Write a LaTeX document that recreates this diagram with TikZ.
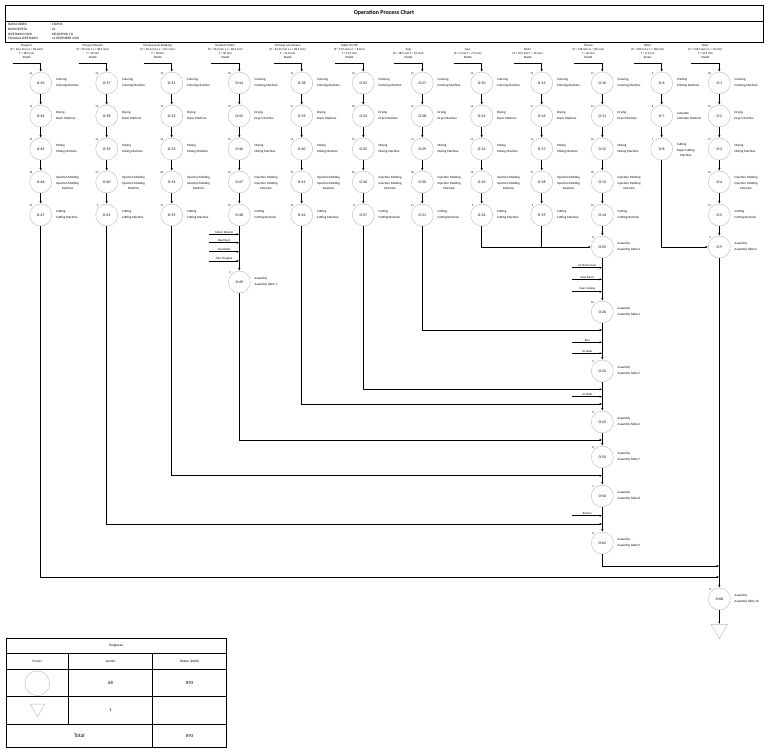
\documentclass[tikz,border=0pt]{standalone}
\usepackage{fontspec}
\setmainfont{Carlito}
\usetikzlibrary{arrows.meta, positioning, shapes.geometric}

\begin{document}
\begin{tikzpicture}[
    x=1pt, y=-1pt, % picture measured like the sheet, y going down
    >={Latex[length=2.6pt,width=2.2pt]}, % small arrow tips
    op/.style={circle, draw=gray!55, line width=0.4pt, minimum size=22pt, inner sep=0pt, font=\fontsize{3.8}{4}\selectfont},
    tm/.style={font=\fontsize{2.8}{3}\selectfont, inner sep=0.3pt},
    act/.style={anchor=west, inner sep=0pt, font=\fontsize{3.2}{3.8}\selectfont},
    mach/.style={anchor=north west, inner sep=0pt, align=center, font=\fontsize{3.2}{4.6}\selectfont},
    hdr/.style={anchor=south, align=center, inner sep=0pt, font=\fontsize{3}{4}\selectfont},
    part/.style={anchor=south, minimum width=30pt, inner sep=1pt, font=\fontsize{3}{3.5}\selectfont},
    info/.style={anchor=west, inner sep=0pt, font=\fontsize{3.4}{4}\selectfont},
    cell/.style={inner sep=0pt, font=\fontsize{3.4}{4}\selectfont},
    flow/.style={->, line width=1pt},
    joinline/.style={line width=1pt},
    store/.style={regular polygon, regular polygon sides=3, shape border rotate=180, draw=gray!55, line width=0.4pt, inner sep=0pt}
]
    \useasboundingbox (0,0) rectangle (768,753);

    % Title block
    \draw[line width=0.8pt] (5,5) rectangle (763,42);
    \draw[line width=0.8pt] (5,21) -- (763,21);
    \node[font=\bfseries\fontsize{6}{7}\selectfont] (title) at (384,13) {Operation Process Chart};
    \node[info] (k1) at (8,24.5) {NAMA OBJEK};
    \node[info] (k2) at (8,29.3) {NOMOR PETA};
    \node[info] (k3) at (8,34) {DIPETAKAN OLEH};
    \node[info] (k4) at (8,38.7) {TANGGAL DIPETAKAN};
    \node[info] (v1) at (50,24.5) {: TAMIYA};
    \node[info] (v2) at (50,29.3) {: 01};
    \node[info] (v3) at (50,34) {: KELOMPOK 1 B};
    \node[info] (v4) at (50,38.7) {: 11 DESEMBER 2023};

    % Part headers
    \node[hdr] (h63) at (26.7,59) {Pengunci\\(P = 16,4 mm x L = 86 mm)\\T = 18,5 mm\\Plastik};
    \node[hdr] (h57) at (92.7,59) {Pengunci Bawah\\(P = 45 mm x L = 38,2 mm)\\T = 10 mm\\Plastik};
    \node[hdr] (h51) at (157.7,59) {Penutup Gear Belakang\\(P = 40,2 mm x L = 23,4 mm)\\T = 18 mm\\Plastik};
    \node[hdr] (h44) at (225.3,59) {Dudukan Motor\\(P = 33,2 mm x L = 28,4 mm)\\T = 30 mm\\Plastik};
    \node[hdr] (h38) at (287.7,59) {Penutup Gear Depan\\(P = 36,45 mm x L = 28,5 mm)\\T = 15,8 mm\\Plastik};
    \node[hdr] (h33) at (349.3,59) {Saklar On/Off\\(P = 10,5 mm x L = 8 mm)\\T = 12,5 mm\\Plastik};
    \node[hdr] (h27) at (408.3,59) {Velg\\(d = 18,5 mm T = 10 mm)\\Plastik};
    \node[hdr] (h20) at (467.7,59) {Gear\\(d = 6 mm T = 7,5 mm)\\Plastik};
    \node[hdr] (h15) at (527.7,59) {Roller\\(d = 10,5 mm T = 16 mm)\\Plastik};
    \node[hdr] (h10) at (588.3,59) {Chassis\\(P = 148 mm x L = 86 mm)\\T = 40 mm\\Plastik};
    \node[hdr] (h6) at (647.7,59) {Stiker\\(P = 165 mm x L = 100 mm)\\T = 0,1 mm\\Kertas};
    \node[hdr] (h1) at (705.3,59) {Body\\(P = 148,5 mm x L = 70 mm)\\T = 44,5 mm\\Plastik};

    % Parts made in five steps
    \foreach \cx/\fst/\tA/\tB/\tC/\tD/\tE in {40.7/63/14/12/15/18/10, 106.7/57/13/12/14/17/9,
        171.7/51/15/13/16/20/11, 239.3/44/16/12/15/21/10, 301.7/38/14/11/15/19/10,
        363.3/33/12/10/13/16/8, 422.3/27/15/12/14/18/11, 481.7/20/14/13/15/19/9,
        541.7/15/13/11/14/17/9, 602.3/10/17/14/16/22/12, 719.3/1/18/15/17/24/13}{
        \pgfmathtruncatemacro\nxa{\fst+1}
        \pgfmathtruncatemacro\nxb{\fst+2}
        \pgfmathtruncatemacro\nxc{\fst+3}
        \pgfmathtruncatemacro\nxd{\fst+4}

        \node[op, label={[tm]above left:\tA}] (o\fst) at (\cx,83) {O-\fst};
        \node[act] (a\fst) at ([xshift=4pt,yshift=3pt]o\fst.east) {Coloring};
        \node[mach] (m\fst) at ([xshift=4pt,yshift=-1pt]o\fst.east) {Coloring Machine};

        \node[op, label={[tm]above left:\tB}] (o\nxa) at (\cx,116) {O-\nxa};
        \node[act] (a\nxa) at ([xshift=4pt,yshift=3pt]o\nxa.east) {Drying};
        \node[mach] (m\nxa) at ([xshift=4pt,yshift=-1pt]o\nxa.east) {Dryer Machine};

        \node[op, label={[tm]above left:\tC}] (o\nxb) at (\cx,149) {O-\nxb};
        \node[act] (a\nxb) at ([xshift=4pt,yshift=3pt]o\nxb.east) {Mixing};
        \node[mach] (m\nxb) at ([xshift=4pt,yshift=-1pt]o\nxb.east) {Mixing Machine};

        \node[op, label={[tm]above left:\tD}] (o\nxc) at (\cx,182) {O-\nxc};
        \node[act] (a\nxc) at ([xshift=4pt,yshift=4.5pt]o\nxc.east) {Injection Molding};
        \node[mach] (m\nxc) at ([xshift=4pt,yshift=0pt]o\nxc.east) {Injection Molding\\Machine};

        \node[op, label={[tm]above left:\tE}] (o\nxd) at (\cx,215) {O-\nxd};
        \node[act] (a\nxd) at ([xshift=4pt,yshift=3pt]o\nxd.east) {Cutting};
        \node[mach] (m\nxd) at ([xshift=4pt,yshift=-1pt]o\nxd.east) {Cutting Machine};

        \path (o\fst) ++(-28,-20) coordinate (in\fst);
        \draw[flow] (in\fst) -| (o\fst);
        \draw[flow] (o\fst) -- (o\nxa);
        \draw[flow] (o\nxa) -- (o\nxb);
        \draw[flow] (o\nxb) -- (o\nxc);
        \draw[flow] (o\nxc) -- (o\nxd);
    }

    % Stiker (three steps)
    \node[op, label={[tm]above left:9}] (o6) at (661.7,83) {O-6};
    \node[act] (a6) at ([xshift=4pt,yshift=3pt]o6.east) {Printing};
    \node[mach] (m6) at ([xshift=4pt,yshift=-1pt]o6.east) {Printing Machine};
    \node[op, label={[tm]above left:8}] (o7) at (661.7,116) {O-7};
    \node[act] (a7) at ([xshift=4pt,yshift=3pt]o7.east) {Laminate};
    \node[mach] (m7) at ([xshift=4pt,yshift=-1pt]o7.east) {Laminate Machine};
    \node[op, label={[tm]above left:7}] (o8) at (661.7,149) {O-8};
    \node[act] (a8) at ([xshift=4pt,yshift=4.5pt]o8.east) {Cutting};
    \node[mach] (m8) at ([xshift=4pt,yshift=0pt]o8.east) {Paper Cutting\\Machine};
    \coordinate (in6) at (633.7,63);
    \draw[flow] (in6) -| (o6);
    \draw[flow] (o6) -- (o7);
    \draw[flow] (o7) -- (o8);

    % Assemblies
    \node[op, label={[tm]above left:9}] (o9) at (719.3,247) {O-9};
    \node[op, label={[tm]above left:8}] (o25) at (602.3,247) {O-25};
    \node[op, label={[tm]above left:10}] (o26) at (602.3,312) {O-26};
    \node[op, label={[tm]above left:9}] (o32) at (602.3,371) {O-32};
    \node[op, label={[tm]above left:8}] (o43) at (602.3,422) {O-43};
    \node[op, label={[tm]above left:9}] (o49) at (239.3,282) {O-49};
    \node[op, label={[tm]above left:8}] (o50) at (602.3,457) {O-50};
    \node[op, label={[tm]above left:9}] (o56) at (602.3,496) {O-56};
    \node[op, label={[tm]above left:8}] (o62) at (602.3,543) {O-62};
    \node[op, label={[tm]above left:8}] (o68) at (719.3,599) {O-68};
    \foreach \o/\k in {49/1, 9/2, 25/3, 26/4, 32/5, 43/6, 50/7, 56/8, 62/9, 68/10}{
        \node[act] (a\o) at ([xshift=4pt,yshift=3pt]o\o.east) {Assembly};
        \node[mach] (m\o) at ([xshift=4pt,yshift=-1pt]o\o.east) {Assembly Table \k};
    }
    \node[store, minimum size=19.2pt] (s1) at (719.3,629.1) {};

    % Parts joined without making
    \node[part] (p1) at (224.3,234.3) {Motor Dinamo};
    \node[part] (p2) at (224.3,242.7) {Baut Kecil};
    \node[part] (p3) at (224.3,251.7) {Dua Kabel};
    \node[part] (p4) at (224.3,261) {Mur Pengikat};
    \node[part] (p5) at (587.3,267.7) {As Motor Gear};
    \node[part] (p6) at (587.3,279.3) {Gear Besar};
    \node[part] (p7) at (587.3,291.7) {Gear Sedang};
    \node[part] (p8) at (587.3,342.3) {Ban};
    \node[part] (p9) at (587.3,353.3) {As Roda};
    \node[part] (p10) at (587.3,396.7) {As Roda};
    \node[part] (p11) at (587.3,515.7) {Baterai};
    \foreach \p in {1,2,3,4}
        \draw[flow] (p\p.south west) -- (p\p.south west -| o49);
    \foreach \p in {5,6,7,8,9,10,11}
        \draw[flow] (p\p.south west) -- (p\p.south west -| o25);

    % Joins on the main line
    \coordinate (j7) at (602.3,330);
    \coordinate (j6) at (602.3,389.3);
    \coordinate (j5) at (602.3,404);
    \coordinate (j4) at (602.3,440);
    \coordinate (j3) at (602.3,475.7);
    \coordinate (j2) at (602.3,524);
    \coordinate (j12a) at (719.3,566);
    \coordinate (j12b) at (719.3,577);

    \draw[flow] (o48) -- (o49);
    \draw[flow] (o8) |- (o9);
    \draw[flow] (o5) -- (o9);
    \draw[flow] (o24) |- (o25);
    \draw[joinline] (o19) -- (o19 |- o25);
    \draw[flow] (o14) -- (o25);
    \draw[flow] (o25) -- (o26);
    \draw[flow] (o26) -- (o32);
    \draw[flow] (o32) -- (o43);
    \draw[flow] (o43) -- (o50);
    \draw[flow] (o50) -- (o56);
    \draw[flow] (o56) -- (o62);
    \draw[flow] (o31) |- (j7);
    \draw[flow] (o37) |- (j6);
    \draw[flow] (o42) |- (j5);
    \draw[flow] (o49) |- (j4);
    \draw[flow] (o55) |- (j3);
    \draw[flow] (o61) |- (j2);
    \draw[flow] (o62) |- (j12a);
    \draw[flow] (o67) |- (j12b);
    \draw[flow] (o9) -- (o68);
    \draw[flow] (o68) -- (s1);

    % Summary table
    \draw[line width=0.7pt] (6,638.3) rectangle (226.7,747.3);
    \draw[line width=0.7pt] (6,653.3) -- (226.7,653.3);
    \draw[line width=0.7pt] (6,669.3) -- (226.7,669.3);
    \draw[line width=0.7pt] (6,696.7) -- (226.7,696.7);
    \draw[line width=0.7pt] (6,724.3) -- (226.7,724.3);
    \draw[line width=0.7pt] (68.3,653.3) -- (68.3,724.3);
    \draw[line width=0.7pt] (152.7,653.3) -- (152.7,747.3);
    \node[cell] (t1) at (116.3,645.8) {Ringkasan};
    \node[cell] (t2) at (37.2,661.3) {Proses};
    \node[cell] (t3) at (110.5,661.3) {Jumlah};
    \node[cell] (t4) at (189.7,661.3) {Waktu (Detik)};
    \node[op, minimum size=24.6pt] (t5) at (37.3,683.3) {};
    \node[cell, font=\fontsize{4.6}{5}\selectfont] (t6) at (110.5,683.3) {68};
    \node[cell, font=\fontsize{4.6}{5}\selectfont] (t7) at (189.7,683.3) {893};
    \node[store, minimum size=17pt] (t8) at (37.5,708.3) {};
    \node[cell, font=\fontsize{4.6}{5}\selectfont] (t9) at (110.5,710.5) {1};
    \node[cell, font=\fontsize{5.4}{6}\selectfont] (t10) at (79.3,735.8) {Total};
    \node[cell, font=\fontsize{4.6}{5}\selectfont] (t11) at (189.7,735.8) {893};
\end{tikzpicture}
\end{document}
